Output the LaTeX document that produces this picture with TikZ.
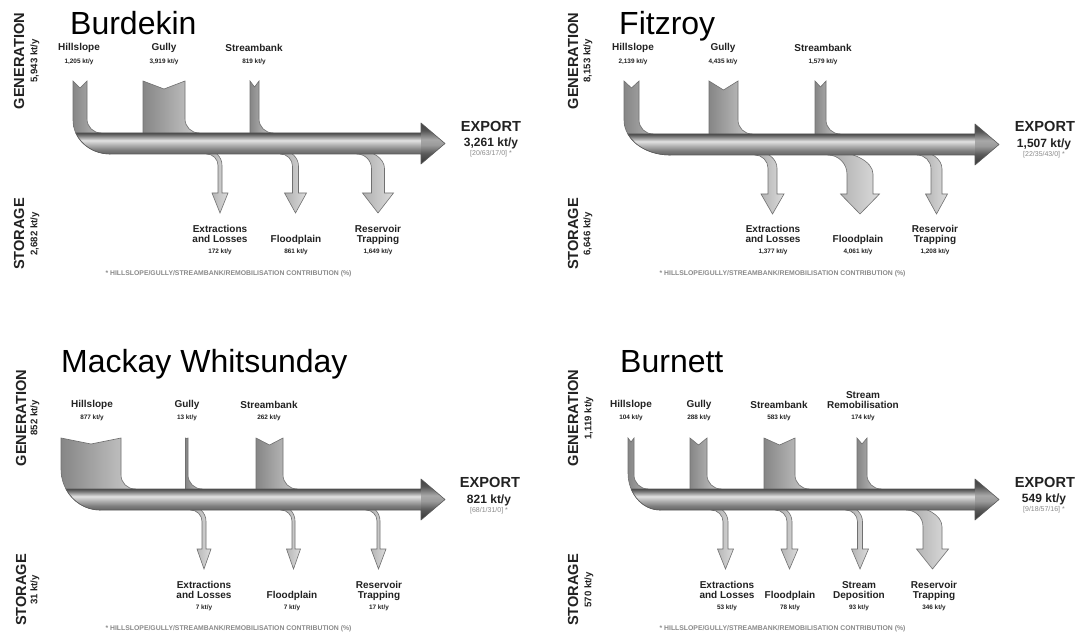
\documentclass[tikz,border=0pt]{standalone}
\usepackage{fontspec}
\setmainfont{Liberation Sans}

\definecolor{flowedge}{HTML}{707070}
\definecolor{mainedge}{HTML}{5A5A5A}
\definecolor{infl}{HTML}{868686}
\definecolor{infr}{HTML}{CACACA}
\definecolor{outl}{HTML}{A8A8A8}
\definecolor{outr}{HTML}{DCDCDC}
\definecolor{labeltext}{HTML}{222222}
\definecolor{notetext}{HTML}{8A8A8A}
\definecolor{bodyA}{HTML}{E2E2E2}
\definecolor{bodyB}{HTML}{B4B4B4}
\definecolor{bodyC}{HTML}{7E7E7E}
\definecolor{bodyD}{HTML}{666666}
\definecolor{bodyE}{HTML}{7A7A7A}
\definecolor{bodyF}{HTML}{4A4A4A}
\definecolor{headA}{HTML}{404040}
\definecolor{headB}{HTML}{555555}
\definecolor{headC}{HTML}{A8A8A8}
\definecolor{headD}{HTML}{9A9A9A}
\definecolor{headE}{HTML}{5A5A5A}
\definecolor{headF}{HTML}{353535}

% shading of the main flow, bottom to top
\pgfdeclareverticalshading{sedbody}{100bp}{color(0bp)=(bodyD); color(25bp)=(bodyD);
  color(35bp)=(bodyC); color(47.5bp)=(bodyB); color(57.5bp)=(bodyA);
  color(69bp)=(bodyE); color(75bp)=(bodyF); color(100bp)=(bodyF)}
\pgfdeclareverticalshading{sedhead}{100bp}{color(0bp)=(headF); color(25bp)=(headF);
  color(38bp)=(headE); color(48bp)=(headD); color(55bp)=(headC);
  color(66bp)=(headB); color(75bp)=(headA); color(100bp)=(headA)}

\tikzset{
  inflow/.style={draw=flowedge, line width=0.6pt, left color=infl, right color=infr},
  outflow/.style={draw=flowedge, line width=0.6pt, left color=outl, right color=outr},
  mainbody/.style={shading=sedbody},
  mainhead/.style={shading=sedhead},
  mainline/.style={draw=mainedge, line width=0.6pt, line join=round},
  basin/.style={inner sep=0pt, anchor=base west, font=\fontsize{32}{36}\selectfont},
  sidetitle/.style={inner sep=0pt, rotate=90, text=labeltext, font=\bfseries\fontsize{14.6}{16}\selectfont},
  sidevalue/.style={inner sep=0pt, rotate=90, text=labeltext, font=\bfseries\fontsize{9.6}{11}\selectfont},
  flowlabel/.style={inner sep=0pt, align=center, text=labeltext, font=\bfseries\fontsize{10}{10}\selectfont},
  flowvalue/.style={inner sep=0pt, text=labeltext, font=\bfseries\fontsize{6.4}{7}\selectfont},
  exportlabel/.style={inner sep=0pt, text=labeltext, font=\bfseries\fontsize{14.6}{16}\selectfont},
  exportvalue/.style={inner sep=0pt, text=labeltext, font=\bfseries\fontsize{12}{14}\selectfont},
  contrib/.style={inner sep=0pt, text=notetext, font=\fontsize{7}{8}\selectfont},
  footnote/.style={inner sep=0pt, text=notetext, font=\bfseries\fontsize{6.85}{8}\selectfont},
}

% inflow from above: left, right, top, notch, main top
\newcommand{\sedin}[5]{%
  \draw[inflow] (#1,#3) -- ({(#1+#2)/2},#4) -- (#2,#3) -- (#2,{#5-14})
    .. controls (#2,{#5-6.3}) and ({#2+6.3},#5) .. ({#2+14},#5)
    -- ({#2+14},{#5+6}) -- (#1,{#5+6}) -- cycle;
}
% first inflow, bending into the main flow: left, right, top, notch, main top, main bottom, bend x, bend y
\newcommand{\sedfirst}[8]{%
  \draw[inflow] (#1,#3) -- ({(#1+#2)/2},#4) -- (#2,#3) -- (#2,{#5-14})
    .. controls (#2,{#5-6.3}) and ({#2+6.3},#5) .. ({#2+14},#5)
    -- (#7,#6) .. controls ({#7-0.552*(#7-#1)},#6) and (#1,{#8+0.552*(#6-#8)}) .. (#1,#8) -- cycle;
}
% outflow below: centre, stem width, head half width, main bottom, tip y
\newcommand{\sedout}[5]{%
  \pgfmathsetmacro\sedL{#1-#2/2}
  \pgfmathsetmacro\sedR{#1+#2/2}
  \pgfmathsetmacro\sedr{10+0.35*#2}
  \draw[outflow] ({\sedL-\sedr},#4)
    .. controls ({\sedL-0.45*\sedr},#4) and (\sedL,{#4+0.45*\sedr}) .. (\sedL,{#4+\sedr})
    -- (\sedL,{#5-20}) -- ({#1-#3},{#5-20}) -- (#1,#5) -- ({#1+#3},{#5-20}) -- (\sedR,{#5-20})
    -- (\sedR,{#4+\sedr})
    .. controls (\sedR,{#4+\sedr-0.552*(\sedr+4)}) and ({\sedL-\sedr+0.552*(#2+\sedr)},{#4-4}) .. ({\sedL-\sedr},{#4-4})
    -- cycle;
}
% main flow: left, top, bottom, bend x, bend y, head base, tip x
\newcommand{\sedmain}[7]{%
  \pgfmathsetmacro\seda{#4-#1}
  \pgfmathsetmacro\sedb{#3-#5}
  \pgfmathsetmacro\sedt{asin((#2-#5)/\sedb)}
  \pgfmathsetmacro\sedk{4/3*tan((90-\sedt)/4)}
  \pgfmathsetmacro\sedp{#4-\seda*cos(\sedt)}
  \pgfmathsetmacro\sedcx{\sedp+\sedk*\seda*sin(\sedt)}
  \pgfmathsetmacro\sedcy{#2+\sedk*\sedb*cos(\sedt)}
  \shade[mainbody] (\sedp,#2) -- ({#6+3},#2) -- ({#6+3},#3) -- (#4,#3)
    .. controls ({#4-\sedk*\seda},#3) and (\sedcx,\sedcy) .. (\sedp,#2) -- cycle;
  \shade[mainhead] (#6,{#2-10}) -- (#7,{(#2+#3)/2}) -- (#6,{#3+10}) -- cycle;
  \draw[mainline] (#6,#2) -- (\sedp,#2) .. controls (\sedcx,\sedcy) and ({#4-\sedk*\seda},#3) .. (#4,#3)
    -- (#6,#3) -- (#6,{#3+10}) -- (#7,{(#2+#3)/2}) -- (#6,{#2-10}) -- cycle;
}

\begin{document}
\begin{tikzpicture}[x=1pt, y=-1pt]
    \fill[white] (0,0) rectangle (1078,636);
    \useasboundingbox (0,0) rectangle (1078,636);

    % ---------------- Burdekin ----------------
    \node[basin] (bdk-title) at (70,35) {Burdekin};
    \node[sidetitle] (bdk-gen) at (19,61) {GENERATION};
    \node[sidevalue] (bdk-gen-val) at (35,61) {5,943 kt/y};
    \node[sidetitle] (bdk-sto) at (19,234) {STORAGE};
    \node[sidevalue] (bdk-sto-val) at (35,234) {2,682 kt/y};

    % Flows
    \sedfirst{73}{87}{81}{88}{133}{154}{110}{120}
    \sedin{143}{185}{81}{89}{133}
    \sedin{250}{259}{81}{87}{133}
    \sedout{220}{4}{8}{154}{213}
    \sedout{295.5}{6}{11}{154}{213}
    \sedout{378}{13}{15.5}{154}{213}
    \sedmain{73}{133}{154}{110}{120}{421}{445}

    % Labels
    \node[flowlabel] (bdk-hill) at (79,48) {Hillslope};
    \node[flowvalue] (bdk-hill-val) at (79,62) {1,205 kt/y};
    \node[flowlabel] (bdk-gully) at (164,48) {Gully};
    \node[flowvalue] (bdk-gully-val) at (164,62) {3,919 kt/y};
    \node[flowlabel] (bdk-bank) at (254,48) {Streambank};
    \node[flowvalue] (bdk-bank-val) at (254,62) {819 kt/y};
    \node[exportlabel] (bdk-exp) at (491,126) {EXPORT};
    \node[exportvalue] (bdk-exp-val) at (491,143) {3,261 kt/y};
    \node[contrib] (bdk-exp-pc) at (491,154) {[20/63/17/0] *};
    \node[flowlabel, anchor=north] (bdk-extr) at (220,225.3) {Extractions\\and Losses};
    \node[flowvalue] (bdk-extr-val) at (220,252) {172 kt/y};
    \node[flowlabel, anchor=north] (bdk-flood) at (296,235.3) {Floodplain};
    \node[flowvalue] (bdk-flood-val) at (296,252) {861 kt/y};
    \node[flowlabel, anchor=north] (bdk-res) at (378,225.3) {Reservoir\\Trapping};
    \node[flowvalue] (bdk-res-val) at (378,252) {1,649 kt/y};
    \node[footnote] (bdk-note) at (228.5,274) {* HILLSLOPE/GULLY/STREAMBANK/REMOBILISATION CONTRIBUTION (\%)};

    % ---------------- Fitzroy ----------------
    \node[basin] (fzr-title) at (619,35) {Fitzroy};
    \node[sidetitle] (fzr-gen) at (573,61) {GENERATION};
    \node[sidevalue] (fzr-gen-val) at (588,61) {8,153 kt/y};
    \node[sidetitle] (fzr-sto) at (573,234) {STORAGE};
    \node[sidevalue] (fzr-sto-val) at (588,234) {6,646 kt/y};

    % Flows
    \sedfirst{624}{639}{81}{88}{134}{155}{670}{120}
    \sedin{709}{738}{81}{90}{134}
    \sedin{815}{826}{81}{87}{134}
    \sedout{772.5}{9}{11.5}{155}{214}
    \sedout{860}{26}{19.5}{155}{214}
    \sedout{936.5}{11}{11}{155}{214}
    \sedmain{624}{134}{155}{670}{120}{975}{999}

    % Labels
    \node[flowlabel] (fzr-hill) at (633,48) {Hillslope};
    \node[flowvalue] (fzr-hill-val) at (633,62) {2,139 kt/y};
    \node[flowlabel] (fzr-gully) at (723,48) {Gully};
    \node[flowvalue] (fzr-gully-val) at (723,62) {4,435 kt/y};
    \node[flowlabel] (fzr-bank) at (823,48) {Streambank};
    \node[flowvalue] (fzr-bank-val) at (823,62) {1,579 kt/y};
    \node[exportlabel] (fzr-exp) at (1045,126) {EXPORT};
    \node[exportvalue] (fzr-exp-val) at (1044,144) {1,507 kt/y};
    \node[contrib] (fzr-exp-pc) at (1044,155) {[22/35/43/0] *};
    \node[flowlabel, anchor=north] (fzr-extr) at (773,225.3) {Extractions\\and Losses};
    \node[flowvalue] (fzr-extr-val) at (773,252) {1,377 kt/y};
    \node[flowlabel, anchor=north] (fzr-flood) at (858,235.3) {Floodplain};
    \node[flowvalue] (fzr-flood-val) at (858,252) {4,061 kt/y};
    \node[flowlabel, anchor=north] (fzr-res) at (935,225.3) {Reservoir\\Trapping};
    \node[flowvalue] (fzr-res-val) at (935,252) {1,208 kt/y};
    \node[footnote] (fzr-note) at (782.5,274) {* HILLSLOPE/GULLY/STREAMBANK/REMOBILISATION CONTRIBUTION (\%)};

    % ---------------- Mackay Whitsunday ----------------
    \node[basin] (mwh-title) at (61,372) {Mackay Whitsunday};
    \node[sidetitle] (mwh-gen) at (21,418) {GENERATION};
    \node[sidevalue] (mwh-gen-val) at (35,418) {852 kt/y};
    \node[sidetitle] (mwh-sto) at (21,590) {STORAGE};
    \node[sidevalue] (mwh-sto-val) at (35,590) {31 kt/y};

    % Flows
    \sedfirst{61}{121}{438}{444}{489}{510}{100}{469}
    \sedin{185.5}{188}{438}{438.5}{489}
    \sedin{256}{283}{438}{445}{489}
    \sedout{204}{4}{7}{510}{569}
    \sedout{293.5}{3}{7}{510}{569}
    \sedout{378.5}{3}{7.5}{510}{569}
    \sedmain{61}{489}{510}{100}{469}{421}{445}

    % Labels
    \node[flowlabel] (mwh-hill) at (92,405) {Hillslope};
    \node[flowvalue] (mwh-hill-val) at (92,418) {877 kt/y};
    \node[flowlabel] (mwh-gully) at (187,405) {Gully};
    \node[flowvalue] (mwh-gully-val) at (187,418) {13 kt/y};
    \node[flowlabel] (mwh-bank) at (269,405) {Streambank};
    \node[flowvalue] (mwh-bank-val) at (269,418) {262 kt/y};
    \node[exportlabel] (mwh-exp) at (490,482) {EXPORT};
    \node[exportvalue] (mwh-exp-val) at (489,500) {821 kt/y};
    \node[contrib] (mwh-exp-pc) at (489,511) {[68/1/31/0] *};
    \node[flowlabel, anchor=north] (mwh-extr) at (204,581.3) {Extractions\\and Losses};
    \node[flowvalue] (mwh-extr-val) at (204,608) {7 kt/y};
    \node[flowlabel, anchor=north] (mwh-flood) at (292,591.3) {Floodplain};
    \node[flowvalue] (mwh-flood-val) at (292,608) {7 kt/y};
    \node[flowlabel, anchor=north] (mwh-res) at (379,581.3) {Reservoir\\Trapping};
    \node[flowvalue] (mwh-res-val) at (379,608) {17 kt/y};
    \node[footnote] (mwh-note) at (228.5,629) {* HILLSLOPE/GULLY/STREAMBANK/REMOBILISATION CONTRIBUTION (\%)};

    % ---------------- Burnett ----------------
    \node[basin] (brn-title) at (620,372) {Burnett};
    \node[sidetitle] (brn-gen) at (573,418) {GENERATION};
    \node[sidevalue] (brn-gen-val) at (589,418) {1,119 kt/y};
    \node[sidetitle] (brn-sto) at (573,590) {STORAGE};
    \node[sidevalue] (brn-sto-val) at (589,590) {570 kt/y};

    % Flows
    \sedfirst{628}{634}{438}{442}{489}{510}{660}{473}
    \sedin{690}{707}{438}{445}{489}
    \sedin{764}{795}{438}{445}{489}
    \sedin{857}{867}{438}{444}{489}
    \sedout{725.5}{5}{8}{510}{569}
    \sedout{789.5}{5}{8.5}{510}{569}
    \sedout{860}{5}{8.5}{510}{569}
    \sedout{932.5}{19}{16}{510}{569}
    \sedmain{628}{489}{510}{660}{473}{975}{999}

    % Labels
    \node[flowlabel] (brn-hill) at (631,405) {Hillslope};
    \node[flowvalue] (brn-hill-val) at (631,418) {104 kt/y};
    \node[flowlabel] (brn-gully) at (699,405) {Gully};
    \node[flowvalue] (brn-gully-val) at (699,418) {288 kt/y};
    \node[flowlabel] (brn-bank) at (779,405) {Streambank};
    \node[flowvalue] (brn-bank-val) at (779,418) {583 kt/y};
    \node[flowlabel, anchor=north] (brn-remob) at (863,391.3) {Stream\\Remobilisation};
    \node[flowvalue] (brn-remob-val) at (863,418) {174 kt/y};
    \node[exportlabel] (brn-exp) at (1045,482) {EXPORT};
    \node[exportvalue] (brn-exp-val) at (1044,499) {549 kt/y};
    \node[contrib] (brn-exp-pc) at (1044,510) {[9/18/57/16] *};
    \node[flowlabel, anchor=north] (brn-extr) at (727,581.3) {Extractions\\and Losses};
    \node[flowvalue] (brn-extr-val) at (727,608) {53 kt/y};
    \node[flowlabel, anchor=north] (brn-flood) at (790,591.3) {Floodplain};
    \node[flowvalue] (brn-flood-val) at (790,608) {78 kt/y};
    \node[flowlabel, anchor=north] (brn-dep) at (859,581.3) {Stream\\Deposition};
    \node[flowvalue] (brn-dep-val) at (859,608) {93 kt/y};
    \node[flowlabel, anchor=north] (brn-res) at (934,581.3) {Reservoir\\Trapping};
    \node[flowvalue] (brn-res-val) at (934,608) {346 kt/y};
    \node[footnote] (brn-note) at (782.5,629) {* HILLSLOPE/GULLY/STREAMBANK/REMOBILISATION CONTRIBUTION (\%)};
\end{tikzpicture}
\end{document}
